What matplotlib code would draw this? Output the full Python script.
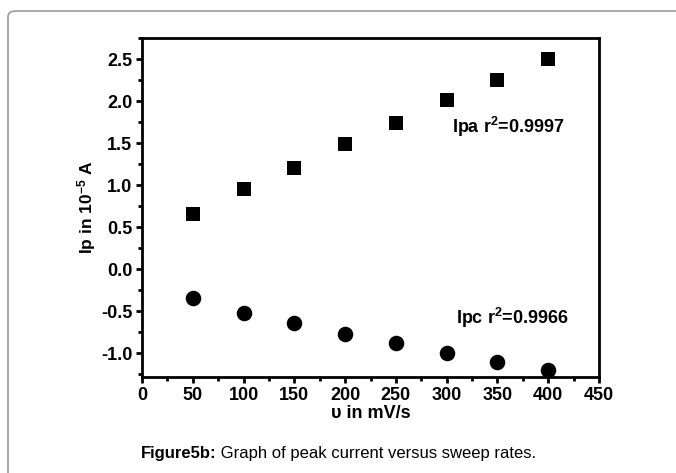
import matplotlib.pyplot as plt
from matplotlib.patches import FancyBboxPatch
from matplotlib.ticker import MultipleLocator

plt.rcParams['font.family'] = ['Liberation Sans', 'DejaVu Sans']
plt.rcParams['font.weight'] = 'bold'
plt.rcParams['axes.unicode_minus'] = False
plt.rcParams['mathtext.fontset'] = 'custom'
plt.rcParams['mathtext.rm'] = 'Liberation Sans:bold'
plt.rcParams['mathtext.it'] = 'Liberation Sans:bold'
plt.rcParams['mathtext.bf'] = 'Liberation Sans:bold'

sweep_rate = [50, 100, 150, 200, 250, 300, 350, 400]
ipa = [0.66, 0.95, 1.21, 1.49, 1.74, 2.01, 2.25, 2.50]
ipc = [-0.34, -0.52, -0.64, -0.77, -0.88, -1.00, -1.10, -1.20]

W, H = 676, 473
fig = plt.figure(figsize=(W / 100, H / 100), dpi=100)

# outer frame (only the top and left edges fall inside the picture)
fig.patches.append(FancyBboxPatch((8 / W, -0.2), 1.2, 1 - 11 / H + 0.2,
                                  boxstyle='round,pad=0,rounding_size=0.012',
                                  transform=fig.transFigure, fill=False,
                                  edgecolor='#999999', linewidth=1.2))

ax = fig.add_axes([142 / W, 1 - 377 / H, 457 / W, 339 / H])

ax.scatter(sweep_rate, ipa, marker='s', s=115, color='black', linewidths=0, zorder=3)
ax.scatter(sweep_rate, ipc, marker='o', s=125, color='black', linewidths=0, zorder=3)

ax.set_xlim(0, 450)
ax.set_ylim(-1.28, 2.75)
ax.xaxis.set_major_locator(MultipleLocator(50))
ax.xaxis.set_minor_locator(MultipleLocator(25))
ax.yaxis.set_major_locator(MultipleLocator(0.5))
ax.yaxis.set_minor_locator(MultipleLocator(0.25))
ax.yaxis.set_major_formatter(plt.FuncFormatter(lambda v, p: f'{v:.1f}'))

for s in ax.spines.values():
    s.set_linewidth(2)
ax.tick_params(which='major', direction='out', length=4, width=2,
               labelsize=13, top=False, right=False, pad=3)
ax.tick_params(which='minor', direction='out', length=3, width=2,
               top=False, right=False)

ax.set_xlabel('υ in mV/s', fontsize=13, fontweight='bold', labelpad=1)
ax.set_ylabel('Ip in 10$^{-5}$ A', fontsize=12.5, fontweight='bold', labelpad=2)

ax.text(305, 1.69, 'Ipa r$^{2}$=0.9997', fontsize=13, va='center')
ax.text(309, -0.58, 'Ipc r$^{2}$=0.9966', fontsize=13, va='center')

cap_y = 1 - 453 / H
fig.text(216 / W, cap_y, 'Figure5b:', ha='right', va='center',
         fontsize=12, fontweight='bold')
fig.text(216 / W, cap_y, ' Graph of peak current versus sweep rates.',
         ha='left', va='center', fontsize=12, fontweight='normal')

fig.savefig('out.png', dpi=100)
